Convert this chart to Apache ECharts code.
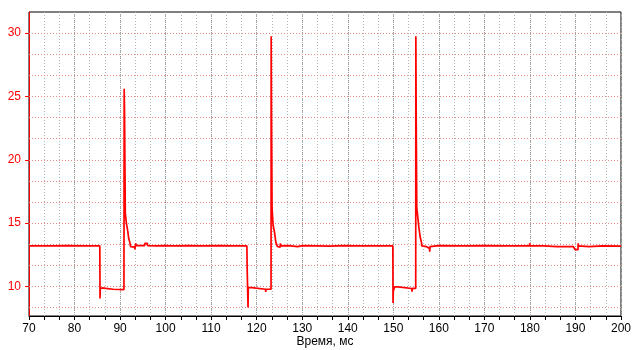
<!DOCTYPE html>
<html>
<head>
<meta charset="utf-8">
<script src="https://cdn.jsdelivr.net/npm/echarts@6/dist/echarts.min.js"></script>
<style>
html,body{margin:0;padding:0;background:#fff;}
#chart{width:632px;height:350px;}
</style>
</head>
<body>
<div id="chart"></div>
<script>
// Time, ms
const times = [
  70, 75, 78.6, 82, 85.55,
  85.6, 85.65, 86.1, 86.85, 86.9, 88.5, 90.85,
  90.9, 90.98, 91.15, 91.38, 91.45, 91.67, 91.89, 92.19, 92.3,
  93.2, 93.25, 93.43, 93.45, 93.55, 95.4, 95.45, 96.0, 96.05,
  98, 100, 101.9, 102.0, 102.2, 105, 108, 112, 115, 117.85,
  117.9, 118.05, 118.1, 118.15, 118.9, 118.95, 121.95, 121.98, 122.05, 123.15,
  123.18, 123.25, 123.37, 123.6, 123.65, 123.9, 124.2, 124.5, 124.55,
  125.15, 125.2, 125.3, 127, 129, 130, 133, 136, 139, 142, 145, 149.9,
  149.94, 150.0, 150.3, 150.31, 151.0, 151.04, 154.05, 154.11, 154.2, 154.92,
  154.95, 155.02, 155.15, 155.6, 155.65, 155.9, 156.2, 156.25,
  157.25, 157.3, 157.95, 158.0, 158.05, 158.4, 158.45,
  160, 165, 170, 175, 178.6, 178.65, 178.7, 179.9, 179.95, 180.0,
  183, 186, 189.5, 189.9, 189.95, 190.55, 190.6, 190.65, 193, 196, 200
];
// Voltage, V
const volts = [
  13.2, 13.2, 13.22, 13.2, 13.2,
  9.05, 9.85, 9.88, 9.85, 9.75, 9.78, 9.75,
  25.6, 23.7, 15.8, 15.0, 14.85, 14.4, 13.8, 13.4, 13.15,
  13.1, 12.93, 12.93, 13.4, 13.22, 13.22, 13.4, 13.4, 13.22,
  13.2, 13.22, 13.2, 13.1, 13.2, 13.22, 13.2, 13.22, 13.2, 13.2,
  11.55, 11.55, 8.34, 9.9, 9.9, 9.78, 9.78, 9.57, 9.78, 9.78,
  29.75, 24.0, 16.2, 14.85, 14.85, 14.3, 13.5, 13.35, 13.15,
  13.1, 13.4, 13.2, 13.22, 13.15, 13.22, 13.2, 13.18, 13.22, 13.2, 13.2, 13.2,
  8.7, 9.65, 9.65, 9.97, 9.97, 9.84, 9.84, 9.58, 9.84, 9.84,
  29.75, 24.0, 16.25, 14.7, 14.7, 13.9, 13.45, 13.2,
  13.15, 13.0, 13.0, 12.74, 13.15, 13.15, 13.22,
  13.22, 13.2, 13.22, 13.2, 13.2, 13.35, 13.2, 13.2, 13.4, 13.2,
  13.2, 13.15, 13.15, 13.1, 12.9, 12.9, 13.4, 13.2, 13.15, 13.2, 13.18
];
const yLabelValues = [10, 15, 20, 25, 30];
const yGridValues = [8.3333, 10, 11.6667, 13.3333, 15, 16.6667, 18.3333, 20, 21.6667, 23.3333, 25, 26.6667, 28.3333, 30, 31.6667];
const xAxisName = 'Время, мс';

const chart = echarts.init(document.getElementById('chart'), null, {renderer: 'canvas'});
const points = times.map((t, i) => [t, volts[i]]);
const font = 'Liberation Sans, Arial, sans-serif';

chart.setOption({
  animation: false,
  backgroundColor: '#fff',
  grid: {left: 29, right: 11, top: 12, bottom: 34, outerBoundsMode: 'none', containLabel: false,
         show: true, borderColor: '#000', borderWidth: 1, backgroundColor: '#fff'},
  xAxis: [{
    type: 'value', min: 70, max: 200, interval: 10 / 3,
    name: xAxisName, nameLocation: 'middle', nameGap: 20, nameMoveOverlap: false,
    nameTextStyle: {color: '#000', fontSize: 12, fontFamily: font},
    axisLine: {show: true, lineStyle: {color: '#000', width: 1}},
    axisTick: {show: true, length: 4, lineStyle: {color: '#000'}},
    axisLabel: {
      color: '#000', fontSize: 12, fontFamily: font, margin: 7, hideOverlap: false,
      showMinLabel: true, showMaxLabel: true,
      formatter: v => { const r = Math.round(v / 10) * 10; return Math.abs(v - r) < 1e-6 ? String(r) : ''; }
    },
    splitLine: {show: true, lineStyle: {color: '#b4b4b4', type: [1, 2], width: 1}}
  }, {
    type: 'value', min: 70, max: 200, interval: 10, position: 'bottom',
    axisLine: {show: false}, axisTick: {show: false}, axisLabel: {show: false},
    splitLine: {show: true, lineStyle: {color: '#a0a0a0', type: [1, 1], width: 1}}
  }],
  yAxis: {
    type: 'value', min: 7.6667, max: 31.6667,
    axisLine: {show: true, lineStyle: {color: '#ff0000', width: 1}},
    axisTick: {show: true, length: 4, customValues: yLabelValues, lineStyle: {color: '#ff0000'}},
    axisLabel: {customValues: yLabelValues, color: '#ff0000', fontSize: 12, fontFamily: font, margin: 8},
    splitLine: {show: false}
  },
  series: [{
    type: 'line', data: [], z: 1, silent: true,
    markLine: {
      silent: true, symbol: ['none', 'none'], label: {show: false},
      lineStyle: {color: '#e88a8a', type: [1, 2], width: 1},
      data: yGridValues.map(v => ({yAxis: v}))
    }
  }, {
    type: 'line', data: points, xAxisIndex: 0, z: 5,
    showSymbol: false, symbol: 'none',
    lineStyle: {color: '#ff0000', width: 1.7},
    itemStyle: {color: '#ff0000'}
  }]
});
</script>
</body>
</html>
